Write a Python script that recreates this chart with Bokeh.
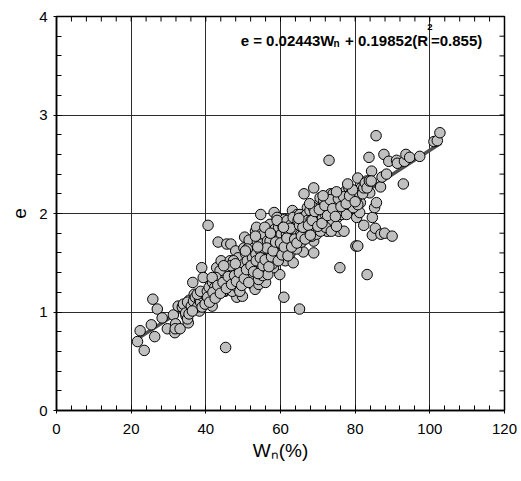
import math
from bokeh.plotting import figure
from bokeh.models import FixedTicker, Label, ColumnDataSource
from bokeh.embed import file_html
from bokeh.resources import INLINE

# ---- data: (Wn %, e) ----
edge_points = [
    (21.7, 0.70), (22.4, 0.81), (23.5, 0.61), (25.4, 0.87), (25.8, 1.13), (26.3, 0.75),
    (27.0, 1.03), (28.3, 0.94), (29.7, 0.83), (31.3, 0.97), (31.7, 0.79), (31.9, 0.88),
    (31.8, 0.83), (33.1, 0.83), (32.6, 1.06), (33.7, 1.05), (34.7, 0.96), (35.3, 0.89),
    (35.6, 1.12), (36.0, 1.01), (36.5, 1.30), (36.9, 1.18), (37.4, 1.07), (38.3, 1.01),
    (38.9, 1.45), (39.3, 1.35), (40.6, 1.88), (40.0, 1.11), (41.5, 1.18), (41.7, 1.06),
    (42.2, 1.27), (42.9, 1.45), (43.3, 1.71), (42.6, 1.18), (44.1, 1.52), (44.2, 1.37),
    (45.1, 1.21), (45.3, 0.64), (45.6, 1.69), (46.7, 1.69), (46.5, 1.52), (46.7, 1.42),
    (47.5, 1.32), (48.0, 1.62), (48.3, 1.15), (48.9, 1.45), (49.3, 1.32), (49.8, 1.16),
    (50.2, 1.65), (50.4, 1.76), (50.8, 1.55), (51.1, 1.38), (51.6, 1.73), (52.0, 1.49),
    (52.5, 1.28), (53.2, 1.23), (53.3, 1.82), (53.6, 1.86), (54.2, 1.28), (54.7, 1.99),
    (54.9, 1.79), (55.1, 1.49), (55.6, 1.32), (56.0, 1.30), (56.5, 1.59), (57.0, 1.69),
    (57.2, 1.89), (57.8, 1.82), (58.3, 2.01), (58.5, 1.84), (59.1, 1.96), (59.8, 1.38),
    (60.2, 1.62), (60.9, 1.15), (61.1, 1.94), (61.3, 1.52), (61.8, 1.82), (62.3, 1.69),
    (62.7, 1.79), (63.2, 2.03), (63.4, 1.50), (63.9, 1.82), (64.5, 1.99), (65.1, 1.03),
    (65.4, 1.82), (65.8, 1.93), (66.1, 1.61), (66.3, 2.20), (66.8, 1.99), (67.2, 2.06),
    (68.1, 1.91), (68.7, 1.99), (68.9, 2.26), (68.9, 1.60), (68.9, 1.72), (69.4, 1.82),
    (69.8, 2.08), (70.6, 2.16), (71.0, 1.99), (71.6, 1.94), (72.5, 1.82), (73.0, 2.54),
    (73.4, 2.20), (73.9, 1.99), (74.3, 2.11), (75.2, 2.03), (75.6, 1.82), (75.9, 1.45),
    (76.3, 2.20), (77.0, 1.82), (77.5, 2.23), (77.9, 2.06), (78.3, 2.26), (78.8, 2.20),
    (79.7, 2.13), (80.1, 2.23), (80.2, 1.67), (80.7, 1.67), (80.4, 1.96), (80.7, 2.36),
    (81.4, 2.11), (81.2, 2.01), (82.3, 1.88), (83.1, 2.33), (83.2, 1.38), (83.7, 2.57),
    (83.9, 2.21), (84.4, 2.43), (84.6, 1.96), (84.6, 1.78), (85.2, 2.06), (85.4, 1.85),
    (85.7, 2.11), (85.6, 2.79), (86.8, 2.27), (86.9, 1.79), (87.2, 2.37), (87.7, 2.60),
    (87.9, 1.80), (88.4, 2.40), (89.0, 2.53), (89.9, 1.77), (91.1, 2.54), (91.3, 2.51),
    (92.9, 2.30), (93.2, 2.53), (93.6, 2.60), (94.6, 2.57), (97.3, 2.58), (101.1, 2.73),
    (102.0, 2.74), (102.7, 2.82),
]
band_33_40 = [
    (34.0, 1.08), (34.6, 0.99), (35.1, 1.10), (36.1, 1.06), (36.7, 1.11), (37.2, 1.15),
    (37.7, 1.05), (38.3, 1.13), (38.6, 1.10), (39.2, 1.16), (39.7, 1.18), (35.1, 0.93),
    (35.5, 0.98), (36.4, 1.01), (37.7, 1.18), (38.6, 1.21),
]
band_40_50 = [
    (40.4, 1.21), (40.9, 1.25), (41.3, 1.13), (41.8, 1.30), (42.4, 1.25), (43.1, 1.21),
    (43.5, 1.32), (44.0, 1.27), (44.4, 1.35), (44.7, 1.21), (45.3, 1.30), (45.8, 1.40),
    (46.2, 1.25), (46.7, 1.33), (47.1, 1.21), (47.5, 1.42), (48.0, 1.37), (48.4, 1.25),
    (48.9, 1.30), (49.3, 1.49), (49.8, 1.35), (48.6, 1.55), (47.4, 1.52), (45.0, 1.45),
    (43.8, 1.42), (42.7, 1.35), (41.7, 1.35), (49.1, 1.21), (50.0, 1.45), (46.7, 1.47),
]
band_50_60 = [
    (50.2, 1.49), (50.7, 1.59), (51.1, 1.52), (51.6, 1.45), (51.8, 1.62), (52.2, 1.38),
    (52.5, 1.55), (52.9, 1.65), (53.1, 1.45), (53.4, 1.59), (53.8, 1.72), (54.0, 1.52),
    (54.3, 1.42), (54.7, 1.62), (55.0, 1.69), (55.4, 1.55), (55.6, 1.79), (55.9, 1.64),
    (56.1, 1.42), (56.5, 1.72), (56.8, 1.52), (57.0, 1.62), (57.4, 1.79), (57.5, 1.59),
    (57.8, 1.69), (58.1, 1.45), (58.2, 1.74), (58.6, 1.65), (58.8, 1.55), (59.0, 1.79),
    (59.3, 1.69), (59.5, 1.86), (59.7, 1.59), (59.9, 1.76), (51.3, 1.33), (52.7, 1.35),
    (54.1, 1.33), (55.2, 1.37), (56.6, 1.38), (57.9, 1.49), (51.1, 1.64), (53.3, 1.77),
    (55.8, 1.86), (57.2, 1.72), (59.1, 1.93),
]
band_60_70 = [
    (60.2, 1.79), (60.5, 1.69), (60.7, 1.86), (61.1, 1.72), (61.4, 1.62), (61.6, 1.79),
    (61.8, 1.93), (62.2, 1.82), (62.4, 1.65), (62.7, 1.72), (62.9, 1.89), (63.2, 1.79),
    (63.4, 1.96), (63.6, 1.69), (64.0, 1.86), (64.1, 1.76), (64.5, 1.82), (64.7, 1.93),
    (65.0, 1.72), (65.2, 1.99), (65.4, 1.79), (65.7, 1.86), (65.9, 1.96), (66.3, 1.79),
    (66.5, 1.89), (66.8, 1.82), (67.0, 1.99), (67.3, 1.93), (67.7, 1.82), (67.9, 2.03),
    (68.2, 1.93), (68.6, 1.86), (68.8, 2.06), (69.1, 1.96), (69.5, 1.89), (69.8, 1.99),
    (60.9, 1.59), (62.5, 1.59), (64.3, 1.64), (65.6, 1.71), (67.2, 1.76), (68.4, 1.77),
    (69.7, 1.79),
]
band_70_80 = [
    (70.3, 1.99), (70.6, 1.93), (70.9, 2.06), (71.3, 1.96), (71.6, 2.13), (72.0, 1.99),
    (72.3, 2.06), (72.7, 1.93), (73.1, 2.13), (73.2, 2.03), (73.6, 2.09), (73.9, 1.93),
    (74.1, 2.20), (74.5, 2.03), (74.8, 2.13), (75.2, 1.96), (75.4, 2.09), (75.7, 2.03),
    (76.1, 2.13), (76.4, 1.99), (76.6, 2.16), (77.0, 2.06), (77.3, 2.13), (77.7, 1.99),
    (78.1, 2.16), (78.4, 2.09), (78.8, 2.13), (79.1, 2.16), (79.5, 2.06), (79.8, 2.20),
    (70.7, 1.82), (72.1, 1.86), (73.6, 1.82), (75.0, 1.87),
]
band_80_85 = [
    (80.4, 2.16), (80.7, 2.09), (81.1, 2.20), (81.6, 2.26), (82.0, 2.20), (82.3, 2.26),
    (82.7, 2.31), (83.2, 2.26), (83.8, 2.33), (84.3, 2.33),
]
band_core = [
    (39.0, 1.05), (39.8, 1.08), (40.5, 1.15), (41.0, 1.10), (41.9, 1.20), (42.5, 1.14),
    (43.2, 1.27), (43.9, 1.19), (44.6, 1.30), (45.5, 1.24), (46.0, 1.36), (46.9, 1.28),
    (47.7, 1.37), (48.2, 1.31), (49.0, 1.40), (49.6, 1.27), (50.3, 1.34), (50.9, 1.43),
    (51.5, 1.30), (52.1, 1.47), (52.8, 1.41), (53.5, 1.52), (54.0, 1.39), (54.6, 1.55),
    (55.3, 1.47), (55.9, 1.53), (56.3, 1.65), (56.9, 1.46), (57.6, 1.56), (58.0, 1.62),
    (58.7, 1.71), (59.4, 1.52), (60.0, 1.70), (60.4, 1.58), (61.0, 1.66), (61.7, 1.75),
    (62.0, 1.57), (62.6, 1.85), (63.0, 1.66), (63.8, 1.74), (64.4, 1.70), (65.1, 1.88),
    (65.6, 1.77), (66.0, 1.86), (66.6, 1.74), (67.5, 1.88), (68.0, 1.78), (68.5, 1.93),
    (69.2, 2.02), (70.0, 1.87), (70.4, 2.04), (71.1, 1.90), (71.9, 2.08), (72.6, 1.98),
    (73.3, 2.14), (74.0, 2.05), (74.7, 1.97), (75.5, 2.15), (76.2, 2.07), (76.9, 2.17),
    (77.6, 2.10), (78.5, 2.18), (79.3, 2.24), (80.0, 2.12), (44.8, 1.47), (47.9, 1.49),
    (50.6, 1.62), (53.9, 1.66), (57.3, 1.80), (60.8, 1.86), (64.9, 1.95), (67.8, 2.10),
    (71.4, 2.18), (75.0, 2.22), (78.0, 2.30),
]

# regression stated on the chart
slope = 0.02443
intercept = 0.19852
fit_wn = [22.0, 103.0]

x_ticks = [0, 20, 40, 60, 80, 100, 120]
x_minor = list(range(0, 121, 4))
y_ticks = [0, 1, 2, 3, 4]
y_minor = [i / 5 for i in range(0, 21)]
X_MAX, Y_MAX = 120, 4

groups = [edge_points, band_33_40, band_40_50, band_50_60, band_60_70, band_70_80,
          band_80_85, band_core]
wn = [pt[0] for g in groups for pt in g]
ee = [pt[1] for g in groups for pt in g]

FONT = "Liberation Sans"

p = figure(width=521, height=481, x_range=(0, X_MAX), y_range=(0, Y_MAX),
           output_backend="svg", toolbar_location=None,
           min_border_left=56, min_border_right=17, min_border_top=16, min_border_bottom=71)
p.background_fill_color = "white"
p.border_fill_color = "white"
p.outline_line_color = "black"
p.outline_line_width = 1.5

xa = p.xaxis[0]
xa.ticker = FixedTicker(ticks=x_ticks, minor_ticks=x_minor)
ya = p.yaxis[0]
ya.ticker = FixedTicker(ticks=y_ticks, minor_ticks=y_minor)
for ax in (xa, ya):
    ax.axis_line_color = "black"
    ax.axis_line_width = 1.5
    ax.major_tick_line_color = "black"
    ax.minor_tick_line_color = "black"
    ax.major_tick_in = 5
    ax.major_tick_out = 3
    ax.minor_tick_in = 5
    ax.minor_tick_out = 0
    ax.major_label_text_font = FONT
    ax.major_label_text_font_size = "15px"
    ax.major_label_text_color = "black"
    ax.axis_label_text_font = FONT
    ax.axis_label_text_font_size = "19px"
    ax.axis_label_text_font_style = "normal"
    ax.axis_label_text_color = "black"
xa.major_label_standoff = 10
ya.major_label_standoff = 6
ya.axis_label = "e"
ya.axis_label_standoff = 10
xa.axis_label = "W\u2099(%)"
xa.axis_label_standoff = 3

p.xgrid.ticker = FixedTicker(ticks=x_ticks)
p.ygrid.ticker = FixedTicker(ticks=y_ticks)
p.grid.grid_line_color = "#2b2b2b"
p.grid.grid_line_width = 1

# inward ticks on the top and right edges (outer half is clipped by the frame)
p.scatter(x_minor, [Y_MAX] * len(x_minor), marker="dash", angle=math.pi / 2, size=10,
          line_color="black", line_width=1)
p.scatter([X_MAX] * len(y_minor), y_minor, marker="dash", angle=0, size=10,
          line_color="black", line_width=1)

# regression line (below the points)
fit_e = [slope * w + intercept for w in fit_wn]
p.line(fit_wn, fit_e, line_color="#505050", line_width=3.5)

src = ColumnDataSource(dict(wn=wn, e=ee))
p.scatter("wn", "e", source=src, size=10.5, marker="circle",
          fill_color="#c0c0c0", line_color="black", line_width=1)

# equation text
eq_style = dict(text_font=FONT, text_font_style="bold", text_color="black",
                text_baseline="alphabetic", text_align="left")
p.add_layout(Label(x=49.33, y=3.755, text="e = 0.02443W", text_font_size="15px", **eq_style))
p.add_layout(Label(x=74.2, y=3.725, text="n", text_font_size="10px", **eq_style))
p.add_layout(Label(x=77.3, y=3.755, text="+ 0.19852(R", text_font_size="15px", **eq_style))
p.add_layout(Label(x=99.3, y=3.895, text="2", text_font_size="9.5px", **eq_style))
p.add_layout(Label(x=100.3, y=3.755, text="=0.855)", text_font_size="15px", **eq_style))

open("out.html", "w").write(file_html(p, INLINE))
